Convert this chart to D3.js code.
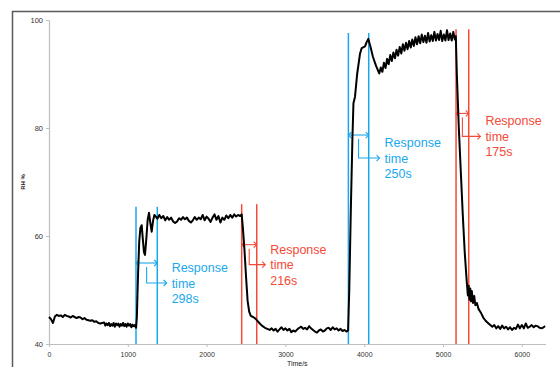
<!DOCTYPE html>
<html>
<head>
<meta charset="utf-8">
<script src="https://cdn.jsdelivr.net/npm/d3@7"></script>
<style>
  html, body { margin: 0; padding: 0; background: #fff; }
  svg { display: block; font-family: "Liberation Sans", Arial, Helvetica, sans-serif; }
</style>
</head>
<body>
<div id="chart"></div>
<script>
// RH response curve with response time markers

// Data
// [time in s, RH %]
const rhData = [
  [0,45.0],[25,44.6],[50,43.9],[75,45.1],[100,45.4],[125,45.2],[150,45.3],[175,45.0],[200,45.4],[225,45.2],
  [250,45.1],[275,44.9],[300,45.2],[325,45.0],[350,44.8],[375,45.0],[400,44.9],[425,44.6],[450,44.8],[475,44.5],
  [500,44.4],[525,44.3],[550,44.4],[575,44.1],[600,44.2],[625,43.9],[650,43.8],[675,43.9],[700,44.0],[715,43.4],
  [730,43.8],[745,43.5],[760,43.9],[775,43.3],[790,43.7],[805,43.4],[820,43.9],[835,43.2],[850,43.8],[865,43.5],
  [880,43.8],[895,43.2],[910,43.7],[925,43.4],[940,43.9],[955,43.3],[970,43.7],[985,43.2],[1000,43.8],[1015,43.4],
  [1030,43.7],[1045,43.1],[1060,43.6],[1075,43.3],[1090,43.5],[1105,43.0],
  [1115,45.0],[1130,53.0],[1145,59.0],[1160,61.5],[1176,62.0],[1190,59.5],[1205,57.0],[1218,56.5],[1235,59.5],[1252,63.0],
  [1269,64.3],[1285,62.5],[1303,60.8],[1320,62.8],[1337,63.9],[1355,63.6],[1375,63.2],[1400,63.9],[1425,63.3],[1450,63.7],
  [1475,62.9],[1500,63.5],[1525,63.0],[1550,63.4],[1575,62.7],[1600,62.4],[1625,62.7],[1650,63.3],[1675,63.0],[1700,63.5],
  [1725,63.1],[1750,63.4],[1775,62.8],[1800,62.5],[1825,62.9],[1850,63.5],[1875,63.0],[1900,63.4],[1925,63.1],[1950,63.9],
  [1975,62.9],[2000,63.6],[2025,63.2],[2050,62.6],[2075,63.4],[2100,64.0],[2125,63.0],[2150,63.7],[2175,62.5],[2200,63.4],
  [2225,63.0],[2250,63.8],[2275,63.3],[2300,63.9],[2325,63.4],[2350,64.0],[2375,63.6],[2400,63.9],[2425,63.7],[2445,64.0],
  [2460,61.5],[2480,57.5],[2500,52.5],[2520,48.0],[2540,46.0],[2560,45.2],[2590,45.0],[2620,44.7],[2650,44.2],[2680,43.7],
  [2710,43.3],[2740,43.0],[2770,42.8],[2800,42.6],[2825,42.9],[2850,42.5],[2875,42.8],[2900,42.3],[2925,42.7],[2950,43.1],
  [2975,42.6],[3000,42.9],[3025,42.5],[3050,42.8],[3075,42.2],[3100,42.5],[3125,42.3],[3150,42.7],[3175,43.0],[3200,43.2],
  [3225,42.8],[3250,43.0],[3275,42.7],[3300,43.3],[3325,42.9],[3350,42.6],[3375,42.3],[3400,42.1],[3425,42.5],[3450,42.7],
  [3475,42.3],[3500,42.5],[3525,42.9],[3550,43.0],[3575,42.6],[3600,43.1],[3625,42.7],[3650,42.9],[3675,42.5],[3700,42.8],
  [3725,42.4],[3750,42.6],[3775,42.3],[3795,42.5],
  [3810,50.0],[3830,65.0],[3850,78.0],[3863,84.6],[3883,85.8],[3910,90.0],[3947,93.8],[3968,94.8],[4010,95.1],[4030,95.9],
  [4052,96.5],[4080,95.0],[4110,93.2],[4150,91.5],[4190,90.1],
  [4210,91.2],[4230,90.4],[4250,92.1],[4270,91.1],[4290,92.8],[4310,91.8],[4330,93.5],[4350,92.4],[4370,94.0],[4390,92.9],
  [4410,94.5],[4430,93.4],[4450,95.0],[4470,93.8],[4490,95.5],[4510,94.3],[4530,95.8],[4550,94.6],[4570,96.1],[4590,94.9],
  [4610,96.4],[4630,95.2],[4650,96.8],[4670,95.5],[4690,97.0],[4710,95.7],[4730,97.3],[4750,95.9],[4770,97.1],[4790,95.8],
  [4810,97.6],[4830,96.0],[4850,97.2],[4870,96.1],[4890,97.8],[4910,96.2],[4930,97.4],[4950,96.3],[4970,98.0],[4990,96.1],
  [5010,97.3],[5030,96.2],[5050,98.1],[5070,96.3],[5090,97.5],[5110,96.2],[5130,97.8],[5150,96.4],[5162,97.0],
  [5175,90.0],[5200,80.0],[5225,72.0],[5250,64.0],[5275,57.0],[5300,51.7],[5315,49.0],[5325,50.8],[5335,48.2],[5345,50.3],
  [5355,47.9],[5365,49.8],[5380,47.6],[5395,48.9],[5410,47.2],[5430,47.6],[5450,46.5],[5480,45.8],[5510,44.9],[5540,44.3],
  [5570,43.9],[5600,43.5],[5625,43.2],[5650,43.5],[5675,42.9],[5700,43.3],[5725,42.8],[5750,43.4],[5775,42.9],[5800,43.2],
  [5825,42.7],[5850,43.1],[5875,42.6],[5900,43.0],[5925,42.8],[5950,43.6],[5975,42.9],[6000,43.5],[6025,42.9],[6050,43.8],
  [6075,43.0],[6100,43.2],[6125,43.5],[6150,43.1],[6175,43.4],[6200,43.3],[6225,43.0],[6250,42.9],[6275,43.1],[6295,43.3]
];

// response time markers (s)
const riseStart = [1104, 3799];
const riseEnd = [1374, 4057];
const fallStart = [2445, 5165];
const fallEnd = [2636, 5326];
const riseLabels = ["298s", "250s"];
const fallLabels = ["216s", "175s"];

const xTicks = [0, 1000, 2000, 3000, 4000, 5000, 6000];
const yTicks = [40, 60, 80, 100];

// Styles
const W = 560, H = 367;
const BLUE = "#1aa8ec";
const RED = "#f44a38";

let svg = d3.select("#chart").append("svg")
  .attr("width", W)
  .attr("height", H);

// outer frame (runs off the page on right/bottom)
svg.append("rect")
  .attr("x", 12.5).attr("y", 11.5)
  .attr("width", 700).attr("height", 500)
  .attr("fill", "none")
  .attr("stroke", "#5a5a5a")
  .attr("stroke-width", 1.5);

let x = d3.scaleLinear().domain([0, 6300]).range([49, 545.5]);
let y = d3.scaleLinear().domain([40, 100]).range([344, 20]);

// axes
let xAxis = svg.append("g")
  .attr("transform", `translate(0,${y(40)})`)
  .call(d3.axisBottom(x).tickValues(xTicks).tickFormat(d3.format("d"))
    .tickSize(3).tickSizeOuter(0).tickPadding(5));
let yAxis = svg.append("g")
  .attr("transform", `translate(${x(0)},0)`)
  .call(d3.axisLeft(y).tickValues(yTicks).tickSize(3).tickSizeOuter(0).tickPadding(3));

[xAxis, yAxis].forEach(a => {
  a.select(".domain").attr("stroke", "#bdbdbd").attr("stroke-width", 1.2);
  a.selectAll(".tick line").attr("stroke", "#bdbdbd");
  a.selectAll(".tick text").attr("fill", "#333").attr("font-family", "'Liberation Sans', Arial, sans-serif");
});
xAxis.selectAll(".tick text").attr("font-size", 7);
yAxis.selectAll(".tick text").attr("font-size", 7.5);

// axis titles (the x title sits at the very bottom edge, as in the original)
svg.append("text")
  .attr("x", (x(0) + x(6300)) / 2)
  .attr("y", 366)
  .attr("text-anchor", "middle")
  .attr("font-size", 7)
  .attr("fill", "#222")
  .text("Time/s");

svg.append("text")
  .attr("transform", `translate(25,${(y(40) + y(100)) / 2}) rotate(-90)`)
  .attr("text-anchor", "middle")
  .attr("font-size", 6)
  .attr("font-weight", "bold")
  .attr("fill", "#222")
  .text("RH %");

// marker layout (top of lines and arrow level in RH units, elbow sizes in px)
let markers = [
  {s: riseStart[0], e: riseEnd[0], label: riseLabels[0], col: BLUE, top: 65.4, arrow: 55.0, drop: 16, len: 20},
  {s: fallStart[0], e: fallEnd[0], label: fallLabels[0], col: RED, top: 65.9, arrow: 58.4, drop: 16, len: 16},
  {s: riseStart[1], e: riseEnd[1], label: riseLabels[1], col: BLUE, top: 97.6, arrow: 78.7, drop: 19, len: 21},
  {s: fallStart[1], e: fallEnd[1], label: fallLabels[1], col: RED, top: 98.3, arrow: 82.7, drop: 19, len: 18}
];

let ann = svg.append("g");

markers.forEach(m => {
  let x1 = x(m.s), x2 = x(m.e);
  // the two vertical lines
  [x1, x2].forEach(xx => {
    ann.append("line")
      .attr("x1", xx).attr("x2", xx)
      .attr("y1", y(m.top)).attr("y2", y(40))
      .attr("stroke", m.col)
      .attr("stroke-width", 1.5);
  });
});

// data curve
let line = d3.line()
  .x(d => x(d[0]))
  .y(d => y(d[1]))
  .curve(d3.curveLinear);

svg.append("path")
  .datum(rhData)
  .attr("d", line)
  .attr("fill", "none")
  .attr("stroke", "#000")
  .attr("stroke-width", 2)
  .attr("stroke-linejoin", "round");

// arrows + labels on top
markers.forEach(m => {
  let x1 = x(m.s), x2 = x(m.e);
  let ay = y(m.arrow);
  let g = ann.append("g")
    .attr("stroke", m.col)
    .attr("fill", "none")
    .attr("stroke-width", 1.1);

  // double headed arrow between the lines
  g.append("path").attr("d", `M${x1},${ay}H${x2}`);
  g.append("path").attr("d", `M${x1 + 3},${ay - 3}L${x1},${ay}L${x1 + 3},${ay + 3}`);
  g.append("path").attr("d", `M${x2 - 3},${ay - 3}L${x2},${ay}L${x2 - 3},${ay + 3}`);

  // elbow arrow pointing to the text
  let ex = (x1 + x2) / 2;
  let ey = ay + 4 + m.drop;
  let tip = ex + m.len;
  g.append("path").attr("d", `M${ex},${ay + 4}V${ey}H${tip}`);
  g.append("path").attr("d", `M${tip - 3},${ey - 3}L${tip},${ey}L${tip - 3},${ey + 3}`);

  let t = svg.append("text")
    .attr("x", tip + 5)
    .attr("y", ey - 11)
    .attr("font-size", 12.5)
    .attr("fill", m.col);
  ["Response", "time", m.label].forEach((s, i) => {
    t.append("tspan")
      .attr("x", tip + 5)
      .attr("dy", i == 0 ? 0 : 15.5)
      .text(s);
  });
});
</script>
</body>
</html>
